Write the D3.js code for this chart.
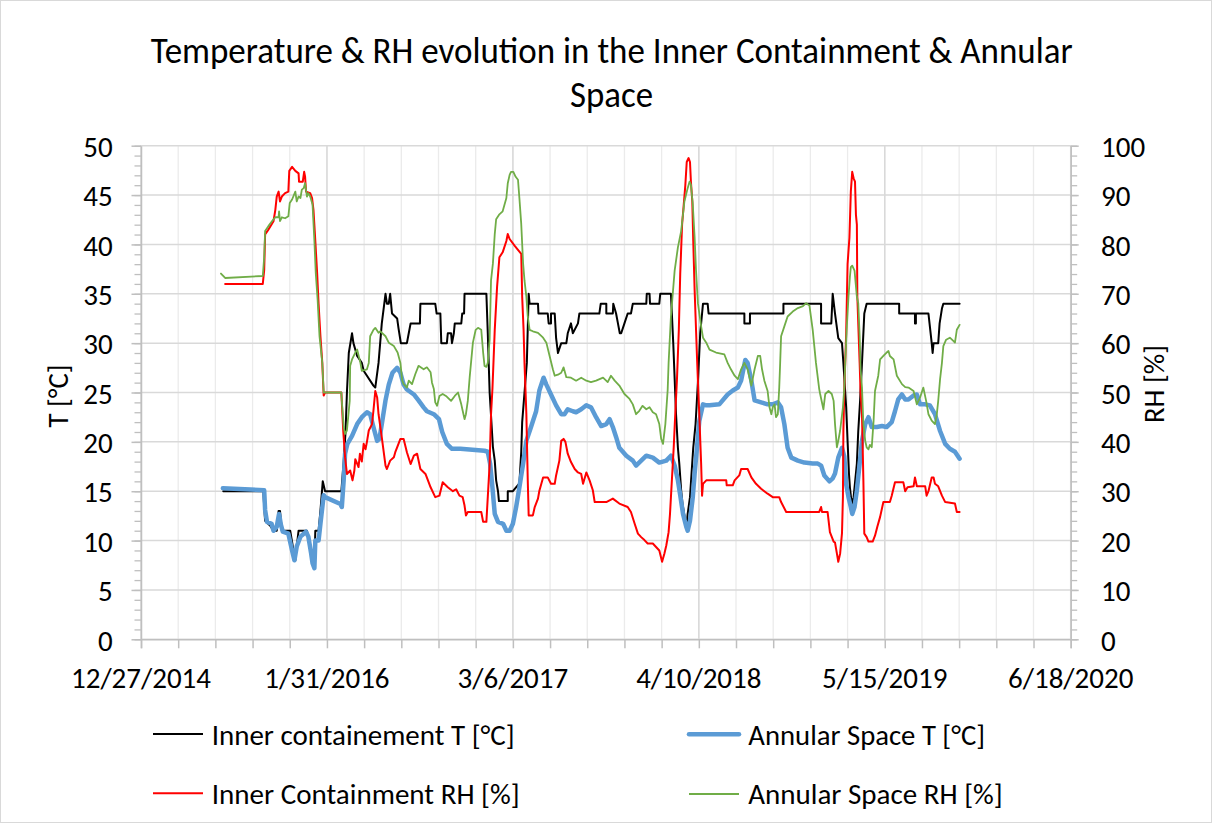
<!DOCTYPE html>
<html><head><meta charset="utf-8">
<script src="https://cdn.jsdelivr.net/npm/d3@7"></script>
<style>
body{margin:0;background:#fff}
svg{display:block}
text{font-family:Carlito,Calibri,"Open Sans",sans-serif;fill:#000}
</style>
</head><body>
<svg id="chart" width="1212" height="823"></svg>
<script>
// ---------------- DATA ----------------
const startDate = "2014-12-27";
const endDate = "2020-06-18";
const xTickStepDays = 400;
const xMinorStepDays = 80;
const tTicks = [0,5,10,15,20,25,30,35,40,45,50];
const rhTicks = [0,10,20,30,40,50,60,70,80,90,100];
const titleLines = ["Temperature & RH evolution in the Inner Containment & Annular", "Space"];
const leftTitle = "T [°C]";
const rightTitle = "RH [%]";
const seriesNames = ["Inner containement T [°C]", "Annular Space T [°C]", "Inner Containment RH [%]", "Annular Space RH [%]"];

// [days since startDate, value]
const innerT = [[177,15],[263,15],[267,12],[278,11.5],[285,11],[292,11],[296,13],[299,13],[303,11],[321,11],[328,9],[332,8],[335,9.4],[339,11],[357,11],[364,9],[369,7.7],[373,7.5],[375,11],[382,11],[386,13],[391,16],[396,15],[429,15],[431,15],[436,18],[440,21],[443,25],[447,29],[454,31],[457,30],[465,28.7],[468,28.5],[475,28],[479,27.2],[500,25.7],[504,25.5],[511,28],[518,32],[526,35],[529,34],[533,34],[536,35],[540,33],[551,32.5],[554,31.5],[559,30],[572,30],[576,31],[580,32],[600,32],[601,34],[633,34],[636,33],[644,33],[646,30],[658,30],[660,31],[667,31],[669,30],[673,31],[675,32],[689,32],[691,33],[695,33],[696,35],[743,35],[746,31],[750,25],[757,19.5],[761,18.1],[764,16.1],[768,15],[770,14],[789,14],[789,15],[800,15],[814,15.8],[818,19],[820,22],[825,25],[830,28],[834,35],[836,34],[854,34],[855,33],[875,33],[877,32],[882,32],[882,33],[890,33],[893,30.5],[897,29],[904,30],[915,30],[918,31],[925,32],[929,31],[940,32],[943,33],[986,33],[989,34],[1001,34],[1001,33],[1015,33],[1016,34],[1022,33],[1026,32],[1030,31],[1033,31],[1040,32],[1047,33],[1054,33],[1058,34],[1087,34],[1088,35],[1094,35],[1095,34],[1115,34],[1117,35],[1140,35],[1145,30],[1151,22.8],[1155,19.4],[1158,17.8],[1162,15.1],[1165,13.7],[1171,12],[1174,11.7],[1176,12.7],[1181,14.4],[1188,19.4],[1193,21.8],[1198,26],[1203,31],[1209,34],[1219,34],[1221,33],[1298,33],[1298,32],[1310,32],[1310,33],[1382,33],[1382,34],[1463,34],[1463,32],[1485,32],[1488,35],[1493,33],[1500,30.5],[1508,30],[1511,28],[1517,23.5],[1520,20.1],[1523,16.8],[1525,15.4],[1529,13.7],[1533,14.4],[1540,17.8],[1543,21.1],[1547,24.2],[1551,28],[1556,33],[1561,34],[1631,34],[1631,33],[1665,33],[1665,32],[1667,32],[1667,33],[1694,33],[1701,30],[1703,29],[1705,30],[1715,30],[1718,32],[1723,33.5],[1726,34],[1761,34]];

const annularT = [[176,15.3],[265,15.1],[267,13.1],[271,11.9],[281,11.7],[285,11],[292,11.4],[297,12.7],[301,11.6],[305,10.9],[317,10.7],[325,9],[330,8],[335,9.4],[343,10.4],[355,10.9],[360,10.4],[366,8.7],[369,7.7],[373,7.2],[375,10],[382,10],[386,11.7],[393,14.6],[396,14.4],[429,13.7],[432,13.4],[436,16.1],[439,18.8],[444,19.8],[454,20.6],[465,21.8],[475,22.5],[486,23],[493,22.8],[500,21.5],[508,20.1],[513,20.3],[518,21.8],[526,24.2],[533,25.8],[541,27],[551,27.5],[558,27],[565,25.8],[572,25.3],[587,24.8],[597,24.2],[608,23.5],[615,23.1],[630,22.8],[641,22.3],[648,21],[658,19.8],[669,19.3],[687,19.3],[739,19.1],[746,19],[751,17.8],[756,15.4],[761,12.7],[768,11.9],[779,11.7],[786,11],[793,11],[800,11.7],[807,13.4],[814,15.4],[822,17.8],[829,20.1],[839,21.5],[850,23.1],[857,25.2],[866,26.5],[872,25.8],[882,24.8],[893,23.7],[904,22.8],[911,22.8],[918,23.3],[929,23.1],[936,23],[947,23.3],[958,23.7],[968,23.5],[979,22.5],[990,21.6],[1001,21.8],[1008,22.3],[1015,21.5],[1022,20.5],[1029,19.4],[1044,18.6],[1058,18.1],[1065,17.6],[1076,18.1],[1087,18.6],[1101,18.4],[1115,17.9],[1130,18.1],[1140,18.6],[1148,17.6],[1155,16.1],[1160,14.6],[1166,12.7],[1173,11.4],[1176,11],[1181,12],[1187,14.4],[1191,16.8],[1196,19.4],[1201,22.1],[1209,23.8],[1216,23.7],[1223,23.7],[1244,23.8],[1262,24.8],[1273,25.2],[1284,25.5],[1291,26.2],[1300,28.3],[1305,28],[1313,26.2],[1320,24.2],[1334,24],[1348,23.8],[1359,23.8],[1370,24],[1377,23.5],[1384,21.8],[1391,19.4],[1399,18.4],[1413,18.1],[1427,17.9],[1445,17.8],[1456,17.8],[1463,17.6],[1470,16.6],[1481,16],[1488,16.3],[1493,16.8],[1500,18.4],[1508,19.4],[1513,18.5],[1517,15.7],[1522,14.4],[1527,13.4],[1530,12.7],[1535,13.4],[1540,15.1],[1546,17.8],[1551,20.1],[1558,21.8],[1565,22.5],[1572,21.5],[1583,21.5],[1594,21.6],[1604,21.5],[1615,22],[1622,23.1],[1629,24.3],[1637,24.8],[1644,24.3],[1651,24.3],[1662,24.7],[1669,24.8],[1676,23.8],[1687,23.8],[1697,23.7],[1708,22.8],[1719,21.1],[1730,19.8],[1740,19.3],[1751,19],[1761,18.3]];

const innerRH = [[181,72],[262,72],[265,74.8],[267,82],[274,83],[285,84.7],[289,87],[292,89.7],[296,90.7],[299,88.7],[303,89.7],[310,90.4],[317,90.7],[319,94.9],[325,95.7],[332,94.9],[339,94.4],[340,92.7],[348,92.7],[351,94.7],[353,93.7],[355,90.7],[364,90.4],[368,89.4],[371,87],[375,80.7],[379,74],[382,68],[386,61.4],[390,56],[393,49.4],[396,50],[429,50],[431,50],[435,42.3],[439,36.9],[443,33.5],[450,34.2],[455,32.2],[459,34.2],[461,36.5],[468,34.9],[471,37.6],[475,36],[479,39.6],[483,38.5],[486,40],[490,42.3],[497,43.6],[500,46.3],[504,50.3],[508,49],[511,45.6],[518,40.9],[526,35.2],[529,34.5],[536,36.2],[544,36.9],[547,37.9],[551,38.9],[558,40.6],[565,40.6],[572,37.9],[580,35.5],[587,37.2],[594,37.6],[601,34.5],[612,33.5],[623,30.8],[633,28.8],[642,29.1],[649,31.8],[660,30.8],[671,30],[678,30.4],[685,29.1],[692,28.8],[696,27.1],[699,25.1],[703,25.8],[732,25.8],[736,23.8],[743,23.8],[746,28.8],[750,35.5],[753,45.6],[756,50.7],[761,62.7],[766,71.4],[771,77.4],[778,78.4],[786,80.7],[789,82.1],[793,81.1],[804,79.7],[818,78.1],[820,69.4],[823,62.7],[825,56],[829,45.6],[832,32.2],[834,25.1],[843,25.1],[847,26.8],[854,28.5],[857,30.1],[865,32.8],[875,32.8],[882,31.5],[890,31.5],[893,33.2],[900,36.2],[904,40.2],[909,40.6],[913,40],[918,37.6],[925,35.9],[933,34.5],[940,33.8],[947,33.5],[951,31.5],[958,33.8],[965,32.2],[972,30.2],[976,27.8],[1001,27.8],[1015,28.5],[1029,27.5],[1047,26.8],[1054,25.8],[1062,23.4],[1069,21.4],[1076,20.7],[1083,20.1],[1090,19.4],[1101,19.4],[1108,18.7],[1115,18],[1121,15.7],[1126,17.4],[1130,19],[1135,21.7],[1138,25.4],[1142,32.2],[1146,38.9],[1150,47],[1153,52.7],[1157,62.7],[1160,74],[1164,84],[1167,87.4],[1171,92],[1174,96.7],[1178,97.5],[1181,96.7],[1183,92.7],[1186,88.7],[1188,80.7],[1191,70.7],[1193,65.4],[1196,57.4],[1199,50],[1201,45.6],[1205,35.5],[1207,29.1],[1209,31.5],[1216,32.2],[1259,32.2],[1260,31.2],[1273,31.2],[1277,32.2],[1287,33.2],[1291,34.5],[1305,34.5],[1313,32.8],[1323,31.5],[1334,30.5],[1348,29.5],[1359,28.8],[1373,28.8],[1377,27.8],[1388,25.8],[1459,25.8],[1463,26.8],[1465,25.8],[1477,25.8],[1482,21.7],[1490,19.8],[1493,19.6],[1497,17.4],[1500,15.7],[1504,17.4],[1508,21.5],[1510,28.8],[1511,42.3],[1513,50.7],[1517,62],[1520,76],[1524,81.4],[1527,90.7],[1530,94.7],[1533,93.4],[1536,92.7],[1538,86],[1540,84],[1541,69.4],[1546,56],[1548,50],[1551,45.6],[1554,32.2],[1556,21.4],[1561,20.7],[1565,19.8],[1574,19.8],[1579,21],[1584,22.8],[1590,24.8],[1597,27.8],[1611,27.8],[1615,29.1],[1622,31.8],[1640,31.8],[1644,30],[1649,30.8],[1662,31],[1665,32.8],[1669,31],[1687,31],[1690,29.1],[1694,30],[1701,32.8],[1705,32.8],[1708,31.5],[1715,31],[1723,29.1],[1730,27.8],[1751,27.5],[1755,25.8],[1761,25.8]];

const annularRH = [[172,74.1],[181,73.2],[262,73.6],[265,77.4],[267,82.7],[274,83.7],[285,85.1],[289,85.5],[296,85.5],[297,86.7],[299,84.7],[303,85.5],[310,85.3],[317,85.7],[320,88.4],[325,89.1],[332,90.7],[335,88.7],[339,89.7],[343,89.4],[346,91.1],[350,91.4],[353,92.4],[357,89.7],[360,90.4],[364,89.7],[369,88.1],[373,80.7],[376,74.1],[380,68.7],[384,61.4],[390,56],[393,50],[431,50],[432,48.3],[436,43],[439,41.6],[443,42.3],[449,48.3],[450,55.4],[454,56.7],[461,58.1],[465,58.7],[472,56],[475,54.4],[486,54.7],[490,56],[493,61.4],[500,62.7],[504,63.1],[511,62.1],[515,62.4],[526,61.4],[533,60.1],[544,59.4],[552,58.1],[558,56],[562,52.4],[565,51.7],[572,51],[576,52.4],[583,51.7],[590,53.7],[597,55.4],[608,54.7],[615,55.1],[623,54.1],[626,52],[630,50.7],[633,48],[637,47.3],[642,49.3],[649,49.7],[656,49.3],[667,48.3],[675,49.3],[682,50],[685,49],[689,47.6],[692,46.3],[696,44.6],[699,45.6],[703,48.3],[707,53],[714,60.1],[720,62.7],[725,63.1],[732,62.7],[736,58.1],[739,55.4],[743,55.2],[746,56],[750,60.7],[753,72.7],[757,76.1],[761,82.1],[764,85.1],[771,86.1],[778,86.7],[786,89.4],[789,92.4],[793,94.1],[796,94.7],[801,94.7],[806,93.7],[811,93.1],[814,89.4],[818,84.1],[822,76.1],[825,72.7],[829,69.4],[832,65.4],[836,62.7],[843,62.4],[854,62.1],[865,61.1],[872,60.1],[879,57.4],[886,54.7],[890,53.4],[897,53.6],[904,54],[909,55.1],[915,53.1],[925,53],[936,52.4],[947,53],[958,52.4],[968,52.1],[979,52.4],[994,53],[1004,52.1],[1011,53.4],[1019,52.4],[1029,51.4],[1040,49.7],[1051,48.7],[1058,47.6],[1065,45.6],[1072,46.3],[1079,47.3],[1087,46.6],[1094,47],[1101,46],[1108,45.6],[1115,43.6],[1119,40.6],[1123,39.6],[1128,43.6],[1133,50.5],[1135,56],[1140,65.4],[1148,74.7],[1155,79.4],[1162,82.7],[1169,88.7],[1176,91.4],[1180,92.7],[1183,92.1],[1187,88.1],[1191,81.4],[1194,74.7],[1198,68.1],[1205,63.4],[1209,61.1],[1216,60.1],[1223,58.7],[1237,58.1],[1255,57.7],[1262,56],[1269,54.7],[1277,53.4],[1284,52.7],[1291,54.7],[1298,56],[1305,54.7],[1313,51.4],[1320,54.7],[1327,57.4],[1332,57.4],[1336,54.7],[1341,52.4],[1348,50.3],[1352,47],[1356,45.6],[1359,47],[1363,47.6],[1366,45],[1370,45.6],[1373,51],[1375,56],[1377,61.4],[1384,63.4],[1391,65.4],[1402,66.4],[1413,67.1],[1424,67.5],[1431,68.1],[1438,67.6],[1445,62.7],[1452,56],[1459,50.7],[1461,49.7],[1468,46.6],[1472,49.7],[1479,50.3],[1486,49.7],[1490,48.3],[1493,43.6],[1497,38.9],[1500,40.2],[1504,42.3],[1510,47],[1513,51],[1515,56],[1518,62.7],[1522,69.4],[1525,73.4],[1527,75.4],[1530,75.7],[1535,74.7],[1540,69.4],[1543,68.1],[1546,61.4],[1548,54.7],[1551,51],[1554,43.6],[1558,40.2],[1561,38.9],[1565,38.5],[1568,39.4],[1572,38.9],[1576,44.3],[1579,50.3],[1586,53.4],[1590,56.7],[1597,57.4],[1604,58.1],[1608,58.4],[1611,57.4],[1619,56.7],[1626,53.4],[1637,51.7],[1644,51.1],[1651,51],[1662,50.3],[1669,47.6],[1676,49],[1683,51],[1689,48.3],[1694,45.6],[1701,44.3],[1708,43.6],[1712,45.6],[1715,48.3],[1719,52.7],[1723,56],[1726,59.4],[1732,60.7],[1740,61.1],[1748,60.4],[1751,60.1],[1755,62.7],[1761,63.7]];

// ---------------- CHART ----------------
const svg = d3.select("#chart");
const W = 1212, H = 823;
const plot = {left: 141, right: 1070.7, top: 145.7, bottom: 639.3};
const t0 = d3.utcParse("%Y-%m-%d")(startDate);
const t1 = d3.utcParse("%Y-%m-%d")(endDate);
const toDate = d => d3.utcDay.offset(t0, d);

const x = d3.scaleUtc().domain([t0, t1]).range([plot.left, plot.right]);
const yT = d3.scaleLinear().domain([0, 50]).range([plot.bottom, plot.top]);
const yRH = d3.scaleLinear().domain([0, 100]).range([plot.bottom, plot.top]);

const majorDates = d3.range(0, 2001, xTickStepDays).map(toDate);
const minorDates = d3.range(0, 2001, xMinorStepDays).map(toDate);
const fmt = d3.utcFormat("%-m/%-d/%Y");

svg.append("rect").attr("x",0.5).attr("y",0.5).attr("width",W-1).attr("height",H-1)
  .attr("fill","#fff").attr("stroke","#d9d9d9").attr("stroke-width",1);

// calibrate font size so that the tick label "12/27/2014" is about 140px wide
const probe = svg.append("text").attr("font-size", 100).text("12/27/2014");
const probeW = probe.node().getComputedTextLength() || 483;
probe.remove();
const fontTick = Math.min(30, Math.max(24, 100 * 140 / probeW));
const fScale = fontTick / 28.5;

// gridlines
const g = svg.append("g");
g.selectAll(".vmin").data(minorDates).join("line")
  .attr("x1", d => x(d)).attr("x2", d => x(d))
  .attr("y1", plot.top).attr("y2", plot.bottom)
  .attr("stroke", "#ebebeb").attr("stroke-width", 1.3);
g.selectAll(".vmaj").data(majorDates).join("line")
  .attr("x1", d => x(d)).attr("x2", d => x(d))
  .attr("y1", plot.top).attr("y2", plot.bottom)
  .attr("stroke", "#d9d9d9").attr("stroke-width", 1.5);
g.selectAll(".hmaj").data(tTicks).join("line")
  .attr("x1", plot.left).attr("x2", plot.right)
  .attr("y1", d => yT(d)).attr("y2", d => yT(d))
  .attr("stroke", "#d9d9d9").attr("stroke-width", 1.5);

// axes
const axisColor = "#bfbfbf";

const bottomAxis = d3.axisBottom(x).tickValues(minorDates).tickSize(9).tickFormat("");
const ba = svg.append("g").attr("transform", `translate(0,${plot.bottom})`).call(bottomAxis);
ba.select(".domain").attr("stroke", axisColor).attr("stroke-width", 1.5);
ba.selectAll(".tick line").attr("stroke", axisColor).attr("stroke-width", 1.5);
svg.append("g").selectAll("text").data(majorDates).join("text")
  .attr("x", d => x(d)).attr("y", 688.3).attr("text-anchor", "middle")
  .attr("font-size", fontTick).text(d => fmt(d));

const leftMinor = d3.axisLeft(yT).tickValues(d3.range(0, 51, 1)).tickSize(6.5).tickFormat("");
const lm = svg.append("g").attr("transform", `translate(${plot.left},0)`).call(leftMinor);
lm.select(".domain").remove();
lm.selectAll(".tick line").attr("stroke", axisColor).attr("stroke-width", 1.3);
const leftAxis = d3.axisLeft(yT).tickValues(tTicks).tickSize(9.5).tickSizeOuter(0).tickFormat("");
const la = svg.append("g").attr("transform", `translate(${plot.left},0)`).call(leftAxis);
la.select(".domain").attr("stroke", axisColor).attr("stroke-width", 1.5);
la.selectAll(".tick line").attr("stroke", axisColor).attr("stroke-width", 1.5);
svg.append("g").selectAll("text").data(tTicks).join("text")
  .attr("x", 112.7).attr("y", d => yT(d) + 11.2).attr("text-anchor", "end")
  .attr("font-size", fontTick).text(d => d);

const rightMinor = d3.axisRight(yRH).tickValues(d3.range(0, 101, 2)).tickSize(6.5).tickFormat("");
const rm = svg.append("g").attr("transform", `translate(${plot.right},0)`).call(rightMinor);
rm.select(".domain").remove();
rm.selectAll(".tick line").attr("stroke", axisColor).attr("stroke-width", 1.3);
const rightAxis = d3.axisRight(yRH).tickValues(rhTicks).tickSize(8).tickSizeOuter(0).tickFormat("");
const ra = svg.append("g").attr("transform", `translate(${plot.right},0)`).call(rightAxis);
ra.select(".domain").attr("stroke", axisColor).attr("stroke-width", 1.5);
ra.selectAll(".tick line").attr("stroke", axisColor).attr("stroke-width", 1.5);
svg.append("g").selectAll("text").data(rhTicks).join("text")
  .attr("x", 1101).attr("y", d => yRH(d) + 11.2).attr("text-anchor", "start")
  .attr("font-size", fontTick).text(d => d);

// axis titles
svg.append("text").attr("transform", "translate(67.5,396) rotate(-90)")
  .attr("text-anchor", "middle").attr("font-size", fontTick)
  .attr("textLength", 63).attr("lengthAdjust", "spacingAndGlyphs").text(leftTitle);
svg.append("text").attr("transform", "translate(1164,384) rotate(-90)")
  .attr("text-anchor", "middle").attr("font-size", fontTick)
  .attr("textLength", 78).attr("lengthAdjust", "spacingAndGlyphs").text(rightTitle);

// title
const fontTitle = 36.4 * fScale;
svg.append("text").attr("x", 150.7).attr("y", 62.7).attr("font-size", fontTitle)
  .attr("textLength", 922).attr("lengthAdjust", "spacingAndGlyphs").text(titleLines[0]);
svg.append("text").attr("x", 570).attr("y", 107).attr("font-size", fontTitle)
  .attr("textLength", 83).attr("lengthAdjust", "spacingAndGlyphs").text(titleLines[1]);

// series
const colors = ["#000000", "#5b9bd5", "#ff0000", "#70ad47"];
const widths = [2, 4.5, 2, 1.8];
const lineT = d3.line().x(d => x(toDate(d[0]))).y(d => yT(d[1]));
const lineRH = d3.line().x(d => x(toDate(d[0]))).y(d => yRH(d[1]));
const series = [
  {data: innerT, line: lineT},
  {data: annularT, line: lineT},
  {data: innerRH, line: lineRH},
  {data: annularRH, line: lineRH}
];
svg.append("g").selectAll("path").data(series).join("path")
  .attr("d", s => s.line(s.data))
  .attr("fill", "none")
  .attr("stroke", (s, i) => colors[i])
  .attr("stroke-width", (s, i) => widths[i])
  .attr("stroke-linejoin", "round")
  .attr("stroke-linecap", "round");

// legend
const fontLegend = 28 * fScale;
const legendItems = [
  {x1: 153, x2: 203, ly: 734, tx: 211.7, ty: 745, tl: 303},
  {x1: 689, x2: 739, ly: 734.3, tx: 748.3, ty: 745, tl: 236.7},
  {x1: 153, x2: 203, ly: 793.3, tx: 211.7, ty: 804.3, tl: 308},
  {x1: 689, x2: 739, ly: 794, tx: 748.3, ty: 804.3, tl: 254.4}
];
const lg = svg.append("g");
legendItems.forEach((p, i) => {
  lg.append("line").attr("x1", p.x1).attr("x2", p.x2).attr("y1", p.ly).attr("y2", p.ly)
    .attr("stroke", colors[i]).attr("stroke-width", widths[i])
    .attr("stroke-linecap", i === 1 ? "round" : "butt");
  lg.append("text").attr("x", p.tx).attr("y", p.ty).attr("font-size", fontLegend)
    .attr("textLength", p.tl).attr("lengthAdjust", "spacingAndGlyphs").text(seriesNames[i]);
});
</script>
</body></html>
